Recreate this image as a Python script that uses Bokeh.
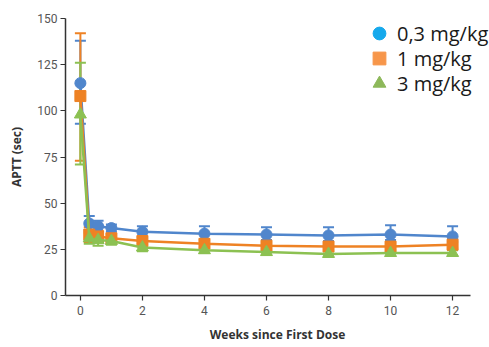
from bokeh.plotting import figure
from bokeh.models import ColumnDataSource, Whisker, TeeHead, Legend, LegendItem, FixedTicker, Range1d
from bokeh.embed import file_html
from bokeh.resources import INLINE

weeks = [0, 0.286, 0.571, 1, 2, 4, 6, 8, 10, 12]
dose_labels = ["0,3 mg/kg", "1 mg/kg", "3 mg/kg"]

aptt_03 = [115, 39, 37.5, 36.5, 34.5, 33.5, 33, 32.5, 33, 32]
err_03_lo = [22, 4, 3, 2, 3, 3, 3, 3, 3, 3]
err_03_hi = [23, 4, 3, 2, 3, 4, 4, 4.5, 5, 5.5]

aptt_1 = [108, 33, 32, 31, 29.5, 28, 27, 26.5, 26.5, 27.5]
err_1_lo = [35, 4, 3, 3, 3, 2, 2, 2, 2, 2]
err_1_hi = [34, 4, 3, 2, 2, 2, 2, 2, 2, 3]

aptt_3 = [98, 31, 30, 29.5, 26, 24.5, 23.5, 22.5, 23, 23]
err_3_lo = [27, 3, 3, 2, 2, 1.5, 1.5, 1.5, 1.5, 1.5]
err_3_hi = [28, 3, 3, 2, 2, 1.5, 1.5, 1.5, 1.5, 1.5]

y_ticks = [0, 25, 50, 75, 100, 125, 150]
x_ticks = [0, 2, 4, 6, 8, 10, 12]

line_colors = ["#5086CC", "#EE8224", "#8CC152"]
legend_colors = ["#16A9EC", "#F7964A", "#8DB85A"]

p = figure(width=489, height=347, output_backend="svg", toolbar_location=None,
           x_range=Range1d(-0.48, 13.19), y_range=Range1d(0, 150),
           min_border_left=65, min_border_top=18, min_border_right=0, min_border_bottom=52)
p.outline_line_color = None
p.grid.visible = False
p.background_fill_color = "white"
p.border_fill_color = "white"

series = [
    (aptt_03, err_03_lo, err_03_hi, "circle", 11),
    (aptt_1, err_1_lo, err_1_hi, "square", 11),
    (aptt_3, err_3_lo, err_3_hi, "triangle", 12),
]

for i, (vals, elo, ehi, marker, size) in enumerate(series):
    src = ColumnDataSource(dict(
        x=weeks, y=vals,
        lo=[v - e for v, e in zip(vals, elo)],
        hi=[v + e for v, e in zip(vals, ehi)],
    ))
    c = line_colors[i]
    w = Whisker(base="x", lower="lo", upper="hi", source=src,
                line_color=c, line_width=2,
                upper_head=TeeHead(size=11, line_color=c, line_width=2),
                lower_head=TeeHead(size=11, line_color=c, line_width=2))
    p.add_layout(w)
    p.line("x", "y", source=src, line_color=c, line_width=2.5)
    p.scatter("x", "y", source=src, marker=marker, size=size,
              fill_color=c, line_color=c)

# legend: one single-item legend per dose, with its own swatch colour
legend_y = [246, 221, 196]
for i, marker in enumerate(["circle", "square", "triangle"]):
    r = p.scatter(x=[-100], y=[-100], marker=marker, size=13,
                  fill_color=legend_colors[i], line_color=legend_colors[i])
    lg = Legend(items=[LegendItem(label=dose_labels[i], renderers=[r])],
                location=(298, legend_y[i]), padding=0, margin=0,
                spacing=0, glyph_width=32, glyph_height=32, label_standoff=2,
                label_text_font="Open Sans", label_text_font_size="20px",
                label_text_color="#1a1a1a",
                background_fill_alpha=0, border_line_color=None)
    p.add_layout(lg, "center")

tick_font = "'Liberation Sans Narrow', 'Roboto'"
for ax in (p.xaxis[0], p.yaxis[0]):
    ax.axis_line_color = "#333333"
    ax.axis_line_width = 1.5
    ax.major_tick_line_color = "#333333"
    ax.major_tick_line_width = 1.2
    ax.major_tick_in = 0
    ax.major_tick_out = 5
    ax.minor_tick_line_color = None
    ax.major_label_text_font = tick_font
    ax.major_label_text_font_size = "12px"
    ax.major_label_text_color = "#555555"
    ax.axis_label_text_font = "Open Sans"
    ax.axis_label_text_font_style = "bold"
    ax.axis_label_text_font_size = "12px"
    ax.axis_label_text_color = "#333333"

p.xaxis.bounds = (-0.48, 12.58)
p.yaxis.ticker = FixedTicker(ticks=y_ticks)
p.xaxis.ticker = FixedTicker(ticks=x_ticks)
p.yaxis.axis_label = "APTT (sec)"
p.xaxis.axis_label = "Weeks since First Dose"
p.yaxis.major_label_standoff = 3
p.xaxis.major_label_standoff = 5
p.xaxis.axis_label_standoff = 8
p.yaxis.axis_label_standoff = 9

open("out.html", "w").write(file_html(p, INLINE))
